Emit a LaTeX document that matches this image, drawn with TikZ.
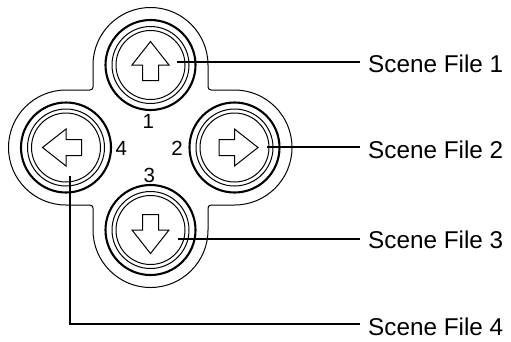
\documentclass[tikz,border=0pt]{standalone}
\usepackage{fontspec}
\setmainfont{Liberation Sans}
\begin{document}
\begin{tikzpicture}[x=1bp,y=1bp,
  thickc/.style={line width=2.1bp},
  thinc/.style={line width=1bp},
  leader/.style={line width=1.5bp},
  contour/.style={line width=1bp},
  arrowshape/.style={line width=1bp, line join=miter},
  lbl/.style={font=\fontsize{24.3bp}{29bp}\selectfont, inner sep=0pt, anchor=base west},
  num/.style={font=\fontsize{20.5bp}{24bp}\selectfont, inner sep=0pt},
  btn/.style={circle, draw, thickc, minimum size=90bp, inner sep=0pt}
]
\useasboundingbox (0,0) rectangle (511,-341);

% outer contour
\draw[contour] (93,-65) arc[start angle=180,end angle=0,radius=57.5]
  -- (208,-87) arc[start angle=180,end angle=270,radius=3] -- (234.5,-90)
  arc[start angle=90,end angle=-90,radius=57.5]
  -- (211,-205) arc[start angle=90,end angle=180,radius=3] -- (208,-230)
  arc[start angle=0,end angle=-180,radius=57.5]
  -- (93,-208) arc[start angle=0,end angle=90,radius=3] -- (66,-205)
  arc[start angle=270,end angle=90,radius=57.5]
  -- (90,-90) arc[start angle=-90,end angle=0,radius=3] -- cycle;

% buttons
\node[btn] (bt1) at (150.5,-65) {};
\node[btn] (bt2) at (234.5,-147.5) {};
\node[btn] (bt3) at (150.5,-230) {};
\node[btn] (bt4) at (66,-147.5) {};

\foreach \b/\r in {bt1/0, bt2/-90, bt3/180, bt4/90}{
  \draw[thinc] (\b.center) circle[radius=38.5] (\b.center) circle[radius=34.5];
  \draw[arrowshape, shift={(\b.center)}, rotate=\r]
    (0,23.5) -- (18.5,0) -- (8,0) -- (8,-15.5) -- (-8,-15.5) -- (-8,0) -- (-18.5,0) -- cycle;
}

% numbers
\node[num] (n1) at (148.3,-121.7) {1};
\node[num] (n2) at (177,-148.3) {2};
\node[num] (n3) at (149.2,-175.8) {3};
\node[num] (n4) at (121.3,-148) {4};

% labels
\node[lbl] (f1) at (368,-72.3) {Scene File 1};
\node[lbl] (f2) at (368,-158.3) {Scene File 2};
\node[lbl] (f3) at (368,-248.3) {Scene File 3};
\node[lbl] (f4) at (368,-335.5) {Scene File 4};

% leaders
\coordinate (s1) at (177,-62);
\coordinate (s2) at (267,-147);
\coordinate (s3) at (178,-239);
\coordinate (s4) at (70,-176);
\coordinate (c4) at (70,-324);
\draw[leader, shorten >=8bp] (s1) -- (s1 -| f1.west);
\draw[leader, shorten >=8bp] (s2) -- (s2 -| f2.west);
\draw[leader, shorten >=8bp] (s3) -- (s3 -| f3.west);
\draw[leader, shorten >=8bp] (s4) -- (c4) -- (c4 -| f4.west);
\end{tikzpicture}
\end{document}
